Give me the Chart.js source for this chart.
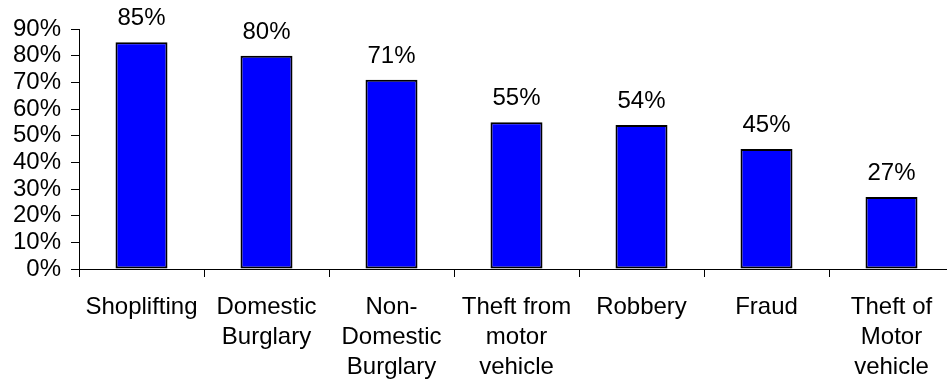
<!DOCTYPE html>
<html>
<head>
<meta charset="utf-8">
<script src="https://cdn.jsdelivr.net/npm/chart.js@4"></script>
<style>
  html, body { margin: 0; padding: 0; background: #fff; overflow: hidden; }
  #wrap { position: relative; width: 960px; height: 387px; }
</style>
</head>
<body>
<div id="wrap"><canvas id="chart-crime"></canvas></div>
<script>
// categories and values
const categories = [
  "Shoplifting",
  ["Domestic", "Burglary"],
  ["Non-", "Domestic", "Burglary"],
  ["Theft from", "motor", "vehicle"],
  "Robbery",
  "Fraud",
  ["Theft of", "Motor", "vehicle"],
];
const percentages = [85, 80, 71, 55, 54, 45, 27];
const yTicks = [0, 10, 20, 30, 40, 50, 60, 70, 80, 90];

const FONT = "'Liberation Sans', Arial, sans-serif";
const FONT_SIZE = 24;

// value labels drawn above each bar
const barLabels = {
  id: "barLabels",
  afterDatasetsDraw(chart) {
    const ctx = chart.ctx;
    const meta = chart.getDatasetMeta(0);
    ctx.save();
    ctx.font = FONT_SIZE + "px " + FONT;
    ctx.fillStyle = "#000";
    ctx.textAlign = "center";
    ctx.textBaseline = "alphabetic";
    meta.data.forEach((bar, i) => {
      ctx.fillText(percentages[i] + "%", bar.x, bar.y - 17);
    });
    ctx.restore();
  },
};

new Chart(document.getElementById("chart-crime"), {
  type: "bar",
  data: {
    labels: categories,
    datasets: [
      {
        label: "Crime",
        data: percentages,
        backgroundColor: "#0000ff",
        borderColor: "#000",
        borderWidth: 2,
        borderSkipped: false,
        barPercentage: 0.416,
        categoryPercentage: 1,
      },
    ],
  },
  options: {
    responsive: true,
    maintainAspectRatio: false,
    animation: false,
    layout: {
      padding: { top: 29, right: 6, bottom: 0, left: 0 },
    },
    plugins: {
      legend: { display: false },
      tooltip: { enabled: false },
    },
    scales: {
      x: {
        grid: {
          offset: true,
          drawOnChartArea: false,
          drawTicks: true,
          tickLength: 8,
          color: "#000",
        },
        border: { color: "#000", width: 1 },
        ticks: {
          color: "#000",
          padding: 15,
          maxRotation: 0,
          autoSkip: false,
          font: { family: FONT, size: FONT_SIZE, lineHeight: 1.25 },
        },
        afterFit(scale) {
          scale.height = 118;
        },
      },
      y: {
        min: 0,
        max: 90,
        afterBuildTicks(scale) {
          scale.ticks = yTicks.map((v) => ({ value: v }));
        },
        grid: {
          drawOnChartArea: false,
          drawTicks: true,
          tickLength: 8,
          color: "#000",
        },
        border: { color: "#000", width: 1 },
        ticks: {
          color: "#000",
          padding: 10,
          autoSkip: false,
          font: { family: FONT, size: FONT_SIZE, lineHeight: 1 },
          callback: (v) => v + "%",
        },
        afterFit(scale) {
          scale.width = 79;
        },
      },
    },
  },
  plugins: [barLabels],
});
</script>
</body>
</html>
